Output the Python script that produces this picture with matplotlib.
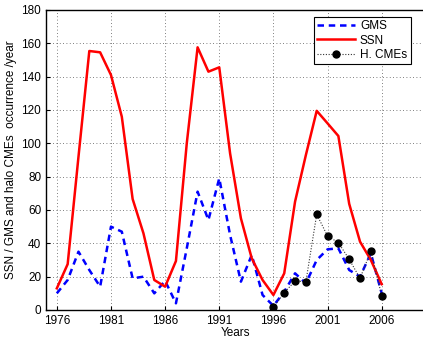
import matplotlib
matplotlib.use("Agg")
import matplotlib.pyplot as plt
import numpy as np

plt.rcParams['font.family'] = ['Liberation Sans', 'DejaVu Sans']

years = list(range(1976, 2007))
ssn = [13, 27.5, 92, 155.4, 154.6, 141, 116, 66.6, 46, 18, 14, 29.4, 100,
       157.6, 143, 145.6, 94, 55, 31, 18, 9, 22, 65, 93, 119.5, 112, 104.4,
       63.7, 41, 30, 15.5]
gms = [10, 18, 35, 24, 14, 50, 47, 19, 20, 10, 17.5, 4, 37,
       71, 54, 79, 45, 17, 33, 9, 2.5, 11, 22, 16, 30, 36.4, 37,
       24, 20, 34, 10]
cme_years = list(range(1996, 2007))
cme = [1.6, 10.4, 17.4, 17, 57.4, 44.4, 40.4, 30.4, 19, 35.4, 8.6]

xticks = [1976, 1981, 1986, 1991, 1996, 2001, 2006]
yticks = list(range(0, 181, 20))

fig = plt.figure(figsize=(4.23, 3.38), dpi=100)
ax = fig.add_axes([46/423, 28/338, 379/423, 300/338])

ax.plot(years, gms, color='#0000ff', lw=1.8, ls=(0, (2.6, 1.9)), label='GMS')
ax.plot(years, ssn, color='#ff0000', lw=1.8, label='SSN')
ax.plot(cme_years, cme, color='#333333', lw=0.8, ls=(0, (1, 1.5)), marker='o',
        markersize=5, markerfacecolor='black', markeredgecolor='black',
        label='H. CMEs')

ax.set_xlim(1975, 2010)
ax.set_ylim(0, 180)
ax.set_xticks(xticks)
ax.set_yticks(yticks)
ax.grid(True, ls=(0, (1, 3)), color='#555555', lw=0.6)
ax.tick_params(direction='in', labelsize=8.5, length=3, top=False, right=False)
for s in ax.spines.values():
    s.set_linewidth(1.0)

ax.set_xlabel('Years', fontsize=8.5, labelpad=0)
ax.set_ylabel('SSN / GMS and halo CMEs  occurrence /year', fontsize=8.5, labelpad=3)

leg = ax.legend(loc='upper right', bbox_to_anchor=(0.962, 0.978),
                borderaxespad=0, fancybox=False, edgecolor='black',
                fontsize=8.5, framealpha=1, handlelength=3.2,
                borderpad=0.3, labelspacing=0.2, handletextpad=0.4)
leg.get_frame().set_linewidth(0.8)

fig.savefig('out.png', dpi=100)
